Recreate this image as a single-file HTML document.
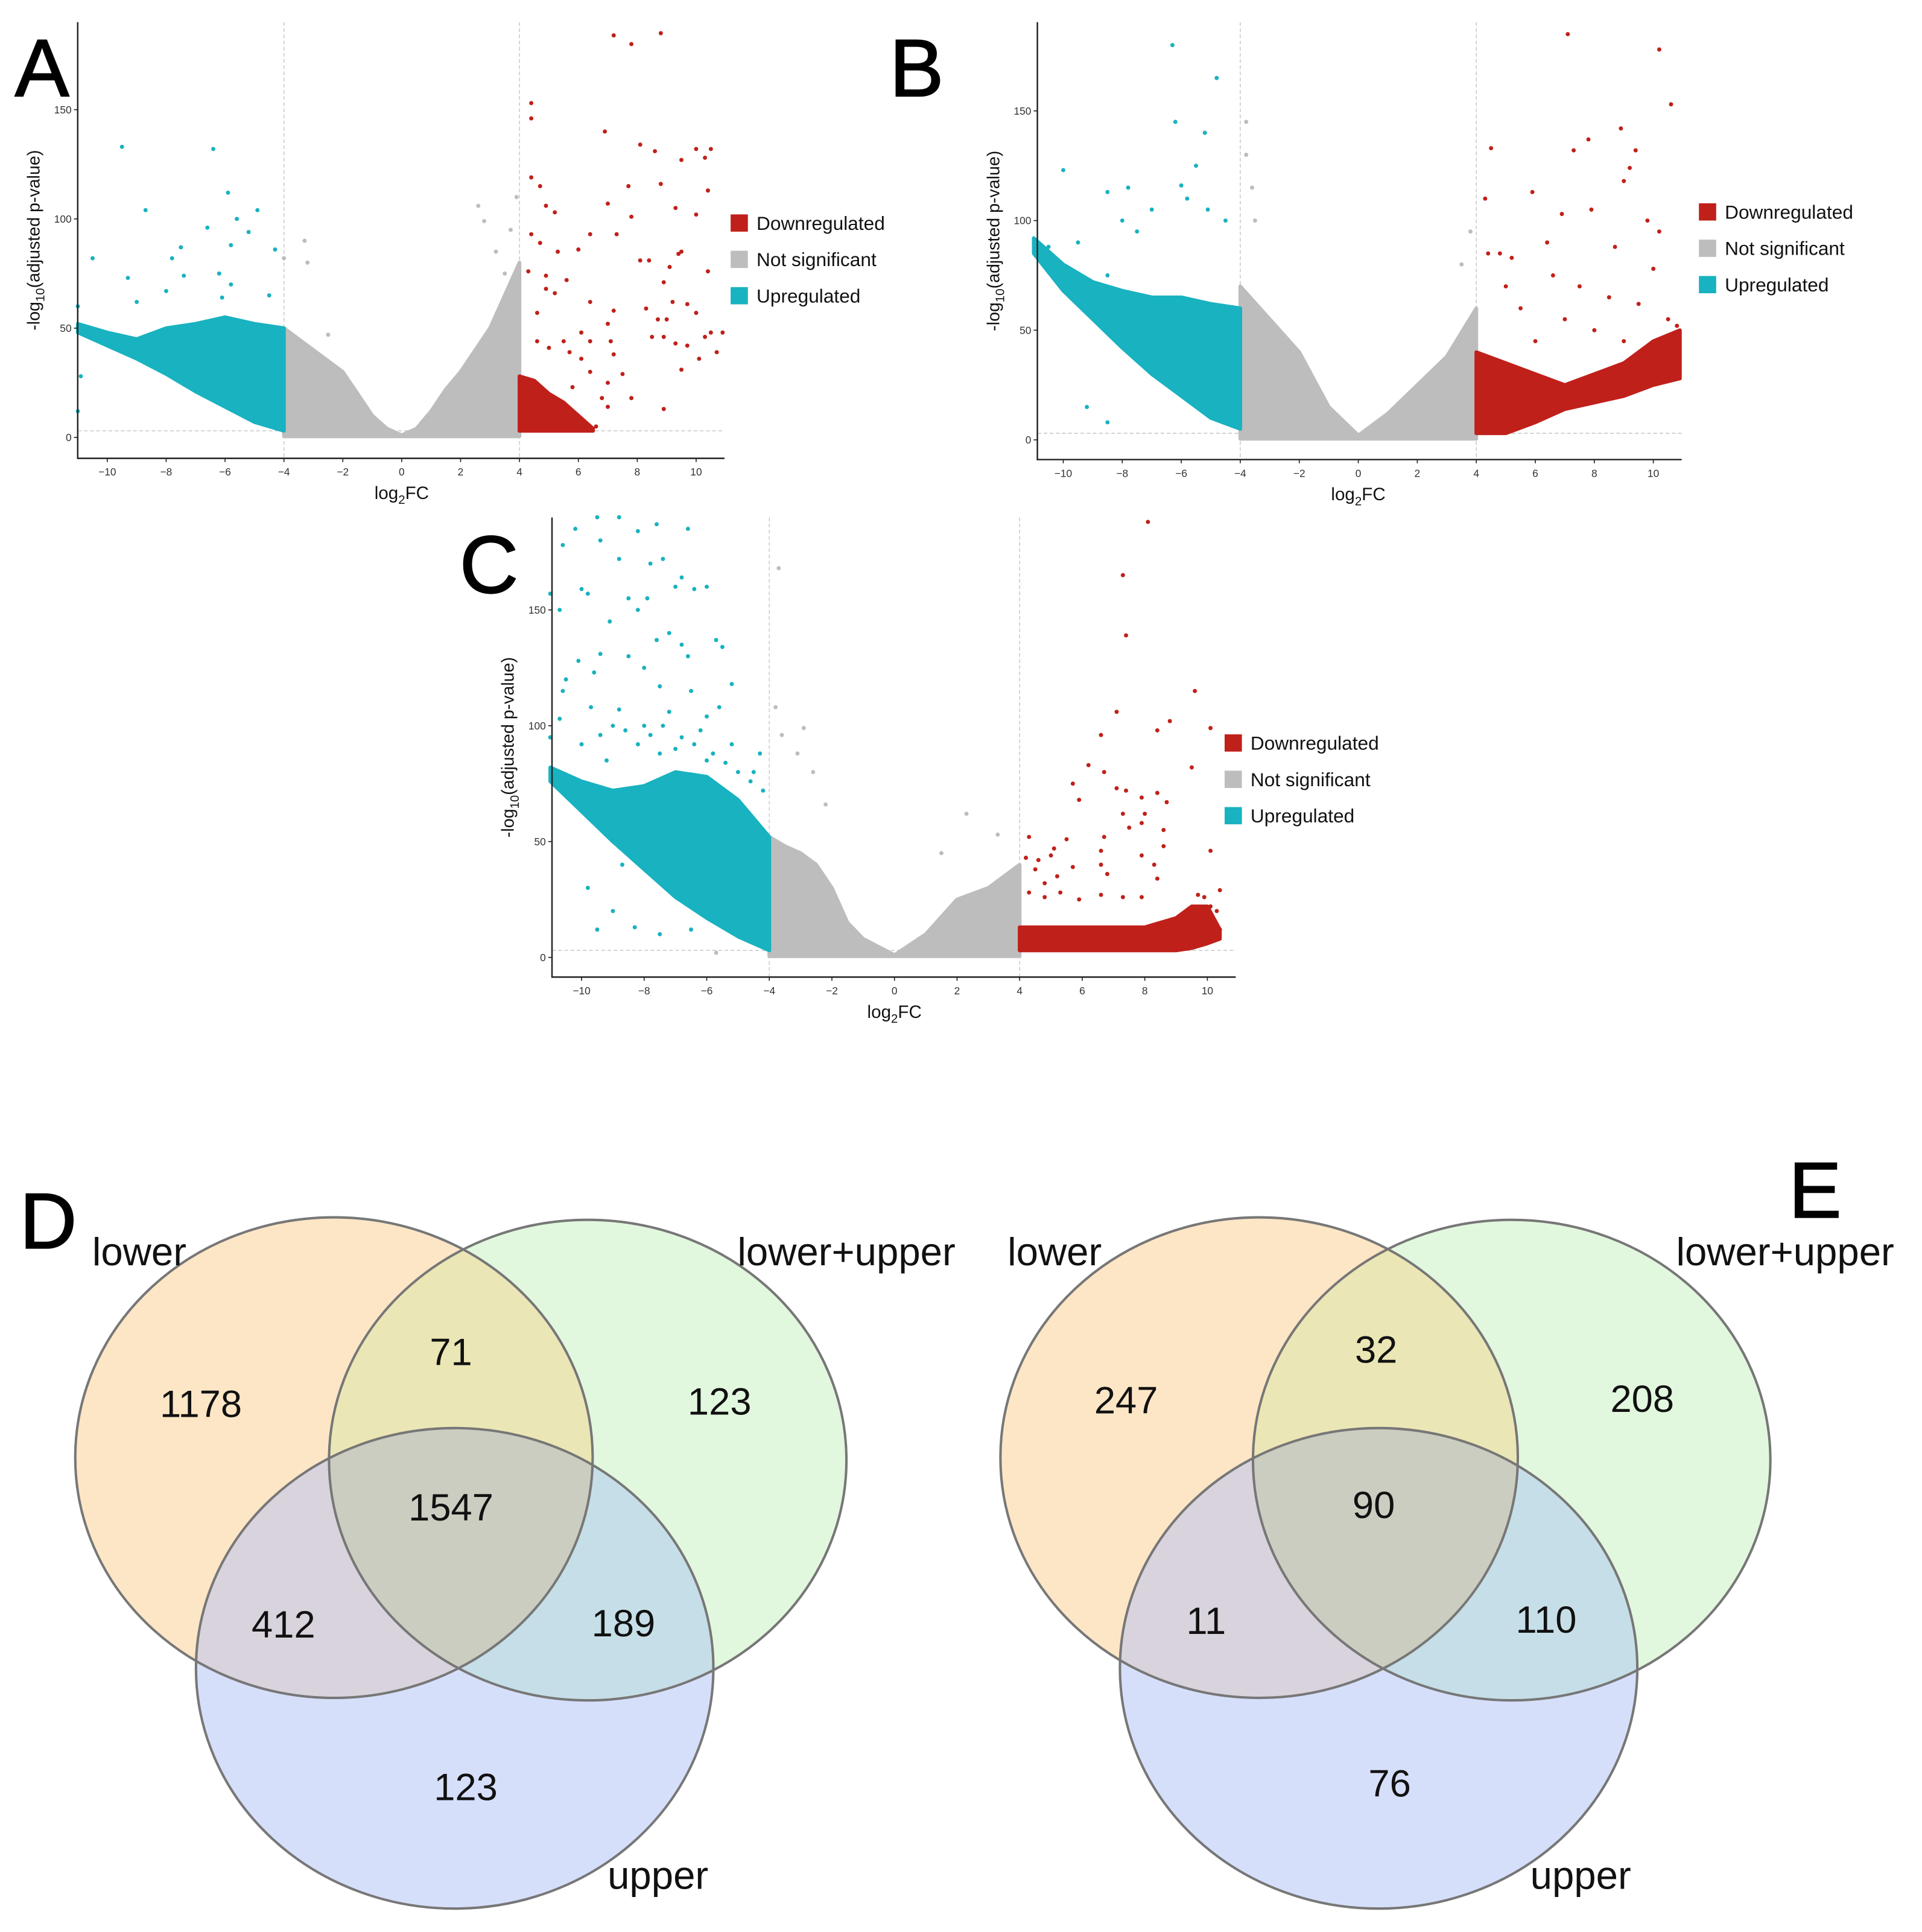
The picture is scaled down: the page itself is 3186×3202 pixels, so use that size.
<!DOCTYPE html>
<html><head><meta charset="utf-8"><style>
html,body{margin:0;padding:0;background:#fff;}
svg{display:block;font-family:"Liberation Sans",Arial,sans-serif;}
</style></head><body>
<svg id="fig" width="3186" height="3202" viewBox="0 0 1560 1568">
<rect x="0" y="0" width="1560" height="1568" fill="#fff"/>
<defs id="defs"></defs>
<g id="venn"></g>
</svg>
<script>
// ---- Volcano data ----
const xTicks = [-10,-8,-6,-4,-2,0,2,4,6,8,10];
const yTicks = [0,50,100,150];
const legendLabels = ["Downregulated","Not significant","Upregulated"];
const legendColors = ["#c0201a","#bdbdbd","#18b2c0"];

// Panel A
const aGrayX = [-4,-3.5,-3,-2.5,-2,-1.5,-1,-0.5,0,0.5,1,1.5,2,2.5,3,3.5,4];
const aGrayTop = [50,45,40,35,30,20,10,4,1,4,12,22,30,40,50,65,80];
const aCyanX = [-11,-10,-9,-8,-7,-6,-5,-4];
const aCyanLow = [48,42,36,29,21,14,7,3];
const aCyanTop = [52,48,45,50,52,55,52,50];
const aRedX = [4,4.5,5,5.5,6,6.5];
const aRedLow = [3,3,3,3,3,3];
const aRedTop = [28,26,20,16,10,4];
const aCyanPts = [[-9.5,133],[-6.4,132],[-5.9,112],[-8.7,104],[-5.6,100],[-4.9,104],[-5.2,94],[-6.6,96],[-7.5,87],[-5.8,88],[-10.5,82],[-7.8,82],[-4.3,86],[-9.3,73],[-7.4,74],[-8,67],[-6.2,75],[-9,62],[-5.8,70],[-4.5,65],[-6.1,64],[-11,60],[-11,12],[-10.9,28]];
const aGrayPts = [[2.6,106],[2.8,99],[3.9,110],[-3.3,90],[-3.2,80],[-4,82],[3.7,95],[3.5,75],[3.2,85],[-2.5,47]];
const aRedPts = [[7.2,184],[8.8,185],[7.8,180],[4.4,153],[4.4,146],[6.9,140],[8.1,134],[8.6,131],[10,132],[10.5,132],[9.5,127],[10.3,128],[4.4,119],[7.7,115],[8.8,116],[10.4,113],[4.7,115],[4.9,106],[7,107],[5.2,103],[9.3,105],[10,102],[7.8,101],[6.4,93],[7.3,93],[4.4,93],[4.7,89],[6,86],[5.3,85],[9.5,85],[8.1,81],[8.4,81],[9.4,84],[9.1,78],[4.3,76],[4.9,74],[5.6,72],[8.9,71],[10.4,76],[4.9,68],[5.2,66],[6.4,62],[8.3,59],[7.2,58],[9.2,62],[9.7,61],[4.6,57],[9,54],[10,57],[7,52],[8.7,54],[6.1,48],[10.5,48],[10.9,48],[8.5,46],[8.9,46],[7.1,44],[6.4,44],[4.6,44],[5.5,44],[9.3,43],[9.7,42],[10.3,46],[5.7,39],[6.1,36],[7.2,38],[10.7,39],[5,41],[9.5,31],[6.4,30],[7.5,29],[10.1,36],[7,25],[5.8,23],[6.8,18],[7.8,18],[7,14],[8.9,13],[6.6,5],[6.2,6]];

// Panel B
const bGrayX = [-4,-3,-2,-1,0,1,2,3,4];
const bGrayTop = [70,55,40,15,2,12,25,38,60];
const bCyanX = [-11,-10,-9,-8,-7,-6,-5,-4];
const bCyanLow = [85,68,55,42,30,20,10,5];
const bCyanTop = [92,80,72,68,65,65,62,60];
const bRedX = [4,5,6,7,8,9,10,10.9];
const bRedLow = [3,3,8,14,17,20,25,28];
const bRedTop = [40,35,30,25,30,35,45,50];
const bCyanPts = [[-6.3,180],[-4.8,165],[-5.2,140],[-6.2,145],[-5.5,125],[-10,123],[-7.8,115],[-8.5,113],[-6,116],[-5.8,110],[-7,105],[-8,100],[-9.5,90],[-7.5,95],[-5.1,105],[-4.5,100],[-10.5,88],[-9.8,78],[-8.5,75],[-9.2,15],[-8.5,8]];
const bGrayPts = [[-3.8,145],[-3.8,130],[-3.6,115],[-3.5,100],[3.8,95],[3.5,80]];
const bRedPts = [[7.1,185],[10.2,178],[10.6,153],[7.8,137],[8.9,142],[7.3,132],[4.5,133],[9.4,132],[9.2,124],[5.9,113],[4.3,110],[9,118],[7.9,105],[6.9,103],[10.2,95],[6.4,90],[4.8,85],[4.4,85],[5.2,83],[8.7,88],[9.8,100],[10,78],[6.6,75],[7.5,70],[8.5,65],[9.5,62],[10.5,55],[5,70],[5.5,60],[7,55],[8,50],[9,45],[10.8,52],[6,45]];

// Panel C
const cGrayX = [-4,-3.5,-3,-2.5,-2,-1.5,-1,0,1,2,3,3.5,4];
const cGrayTop = [52,48,45,40,30,15,8,1,10,25,30,35,40];
const cCyanX = [-11,-10,-9,-8,-7,-6,-5,-4];
const cCyanLow = [76,63,50,38,26,17,9,3];
const cCyanTop = [82,76,72,74,80,78,68,52];
const cRedX = [4,6,8,9,9.5,10,10.4];
const cRedLow = [3,3,3,3,4,6,8];
const cRedTop = [13,13,13,17,22,22,12];
const cCyanPts = [[-10.2,185],[-9.5,190],[-8.8,190],[-7.6,187],[-6.6,185],[-8.2,184],[-9.4,180],[-10.6,178],[-7.4,172],[-8.8,172],[-7.8,170],[-6.8,164],[-6.4,159],[-6,160],[-10,159],[-11,157],[-9.8,157],[-8.5,155],[-7.9,155],[-8.2,150],[-10.7,150],[-9.1,145],[-7,160],[-7.2,140],[-6.8,135],[-5.7,137],[-5.5,134],[-7.6,137],[-8.5,130],[-9.4,131],[-10.1,128],[-5.2,118],[-6.6,130],[-8,125],[-9.6,123],[-10.5,120],[-10.6,115],[-7.5,117],[-6.5,115],[-5.6,108],[-9.7,108],[-8.8,107],[-7.2,106],[-6,104],[-10.7,103],[-11,95],[-9,100],[-8,100],[-6.8,95],[-5.2,92],[-4.3,88],[-10,92],[-7.5,88],[-6,85],[-9.2,85],[-4.5,80],[-9,20],[-9.5,12],[-8.3,13],[-7.5,10],[-6.5,12],[-9.8,30],[-8.7,40],[-8.2,92],[-7.8,96],[-7,90],[-6.4,92],[-5.8,88],[-5.4,84],[-5,80],[-4.6,76],[-4.2,72],[-9.4,96],[-8.6,98],[-6.2,98],[-7.4,100]];
const cGrayPts = [[-3.7,168],[-3.8,108],[-3.6,96],[-2.9,99],[-3.1,88],[-2.6,80],[2.3,62],[1.5,45],[3.3,53],[-2.2,66],[-5.7,2]];
const cRedPts = [[8.1,188],[7.3,165],[7.4,139],[9.6,115],[7.1,106],[8.8,102],[10.1,99],[8.4,98],[6.6,96],[9.5,82],[6.2,83],[6.7,80],[5.7,75],[7.1,73],[7.4,72],[7.9,69],[8.4,71],[5.9,68],[8.7,67],[8,62],[7.3,62],[7.9,58],[7.5,56],[8.6,55],[5.5,51],[6.7,52],[4.3,52],[8.6,48],[5.1,47],[6.6,46],[10.1,46],[4.2,43],[4.6,42],[5,44],[7.9,44],[5.7,39],[6.6,40],[8.3,40],[4.5,38],[5.2,35],[4.8,32],[6.8,36],[8.4,34],[4.3,28],[5.3,28],[5.9,25],[6.6,27],[7.3,26],[7.9,26],[4.8,26],[10.4,29],[10.1,22],[10.3,20],[10.4,12],[9.7,27],[9.9,26]];

// ---- Venn data ----
const vennDLabels = ["1178","71","123","1547","412","189","123"];
const vennELabels = ["247","32","208","90","11","110","76"];

const NS="http://www.w3.org/2000/svg";
const svg=document.getElementById('fig');
const defs=document.getElementById('defs');
function el(tag,attrs,parent,text){const e=document.createElementNS(NS,tag);for(const k in attrs)e.setAttribute(k,attrs[k]);if(text!==undefined)e.textContent=text;(parent||svg).appendChild(e);return e;}

function volcano(cfg){
  const g=el('g',{});
  
  
  const sx=v=>cfg.x0px+(v-cfg.x0v)*(cfg.x1px-cfg.x0px)/(cfg.x1v-cfg.x0v);
  const sy=v=>cfg.y0px-(v)*(cfg.y0px-cfg.y150px)/150;
  [-4,4].forEach(v=>{const l=el('line',{x1:sx(v),x2:sx(v),y1:cfg.top,y2:cfg.bottom,stroke:'#ccc','stroke-width':0.8,'stroke-dasharray':'3,2'},g);
    });
  const hl=el('line',{x1:cfg.left,x2:cfg.right,y1:sy(3),y2:sy(3),stroke:'#ccc','stroke-width':0.8,'stroke-dasharray':'3,2'},g);
  
  function band(xs,lo,hi,color,name){
    let d='M'+xs.map((x,i)=>sx(x)+','+sy(hi[i])).join(' L')+' L'+xs.slice().reverse().map((x,i)=>sx(x)+','+sy(lo[xs.length-1-i])).join(' L')+'Z';
    const p=el('path',{d:d,fill:color,stroke:color,'stroke-width':3,'stroke-linejoin':'round'},g);
    
  }
  band(cfg.grayX,cfg.grayX.map(()=>0.5),cfg.grayTop,'#bdbdbd','not-significant-cloud');
  band(cfg.cyanX,cfg.cyanLow,cfg.cyanTop,'#18b2c0','upregulated-cloud');
  band(cfg.redX,cfg.redLow,cfg.redTop,'#c0201a','downregulated-cloud');
  function pts(arr,color,name){arr.forEach(p=>{const c=el('circle',{cx:sx(p[0]),cy:sy(p[1]),r:1.7,fill:color},g);
    });}
  pts(cfg.grayPts,'#bdbdbd','not-significant-point');
  pts(cfg.cyanPts,'#18b2c0','upregulated-point');
  pts(cfg.redPts,'#c0201a','downregulated-point');
  const ax=el('path',{d:`M${cfg.left},${cfg.top} V${cfg.bottom} H${cfg.right}`,fill:'none',stroke:'#222','stroke-width':1.2},g);
  
  xTicks.forEach(t=>{el('line',{x1:sx(t),x2:sx(t),y1:cfg.bottom,y2:cfg.bottom+3,stroke:'#222','stroke-width':0.8},g);
    const tx=el('text',{x:sx(t),y:cfg.bottom+14,'font-size':8.5,'text-anchor':'middle',fill:'#333'},g,t<0?'\u2212'+(-t):String(t));
    });
  yTicks.forEach(t=>{el('line',{x1:cfg.left-3,x2:cfg.left,y1:sy(t),y2:sy(t),stroke:'#222','stroke-width':0.8},g);
    const tx=el('text',{x:cfg.left-5,y:sy(t)+3,'font-size':8.5,'text-anchor':'end',fill:'#333'},g,String(t));
    });
  const xt=el('text',{x:sx(0),y:cfg.bottom+33,'font-size':14.5,'text-anchor':'middle',fill:'#111'},g);
  
  xt.innerHTML='log<tspan font-size="10" dy="4">2</tspan><tspan dy="-4">FC</tspan>';
  const ymid=(cfg.top+cfg.bottom)/2;
  const yt=el('text',{x:0,y:0,'font-size':14,'text-anchor':'middle',fill:'#111',transform:`translate(${cfg.left-31},${ymid}) rotate(-90)`},g);
  
  yt.innerHTML='-log<tspan font-size="10" dy="4">10</tspan><tspan dy="-4">(adjusted p-value)</tspan>';
  legendLabels.forEach((lab,i)=>{
    const r=el('rect',{x:cfg.legX,y:cfg.legY+i*29.5-7,width:14,height:14,fill:legendColors[i]},g);
    
    const t=el('text',{x:cfg.legX+21,y:cfg.legY+i*29.5+5.5,'font-size':15.5,fill:'#111'},g,lab);
    });
  const L=el('text',{x:cfg.labX,y:cfg.labY,'font-size':66,fill:'#000',stroke:'#000','stroke-width':1},g,cfg.id);
  
}

volcano({id:'A',x0v:-10,x1v:10,x0px:87,x1px:565,y0px:355,y150px:89,left:63,right:588,top:18,bottom:372,
  grayX:aGrayX,grayTop:aGrayTop,cyanX:aCyanX,cyanLow:aCyanLow,cyanTop:aCyanTop,redX:aRedX,redLow:aRedLow,redTop:aRedTop,
  cyanPts:aCyanPts,grayPts:aGrayPts,redPts:aRedPts,legX:593,legY:181,labX:12,labY:78});
volcano({id:'B',x0v:-10,x1v:10,x0px:863,x1px:1342,y0px:357,y150px:90,left:842,right:1365,top:18,bottom:373,
  grayX:bGrayX,grayTop:bGrayTop,cyanX:bCyanX,cyanLow:bCyanLow,cyanTop:bCyanTop,redX:bRedX,redLow:bRedLow,redTop:bRedTop,
  cyanPts:bCyanPts,grayPts:bGrayPts,redPts:bRedPts,legX:1379,legY:172,labX:722,labY:78});
volcano({id:'C',x0v:-10,x1v:10,x0px:472,x1px:980,y0px:777,y150px:495,left:448,right:1003,top:420,bottom:793,
  grayX:cGrayX,grayTop:cGrayTop,cyanX:cCyanX,cyanLow:cCyanLow,cyanTop:cCyanTop,redX:cRedX,redLow:cRedLow,redTop:cRedTop,
  cyanPts:cCyanPts,grayPts:cGrayPts,redPts:cRedPts,legX:994,legY:603,labX:373,labY:481});

// ---- Venn ----
const venn=document.getElementById('venn');
function vennDiagram(id,cx,labels,labelX){
  const g=el('g',{},venn);
  
  const cy=[1183,1185,1354];
  const ell=i=>({cx:cx[i],cy:cy[i],rx:210,ry:195});
  ['L','G','U'].forEach((k,i)=>{const cp=el('clipPath',{id:'clip'+id+k},defs);el('ellipse',ell(i),cp);});
  const cols=['#fde6c6','#e2f8de','#d6dffa'];
  const names=['lower-set','lower-upper-set','upper-set'];
  [0,1,2].forEach(i=>{const e=el('ellipse',Object.assign({fill:cols[i]},ell(i)),g);
    });
  // pairwise overlaps
  const gLG=el('g',{'clip-path':`url(#clip${id}L)`},g); el('ellipse',Object.assign({fill:'#ebe6b5'},ell(1)),gLG);
  const gLU=el('g',{'clip-path':`url(#clip${id}L)`},g); el('ellipse',Object.assign({fill:'#d9d3dd'},ell(2)),gLU);
  const gGU=el('g',{'clip-path':`url(#clip${id}G)`},g); el('ellipse',Object.assign({fill:'#c6dee7'},ell(2)),gGU);
  const gT1=el('g',{'clip-path':`url(#clip${id}L)`},g); const gT2=el('g',{'clip-path':`url(#clip${id}G)`},gT1);
  el('ellipse',Object.assign({fill:'#cacdc0'},ell(2)),gT2);
  [0,1,2].forEach(i=>{el('ellipse',Object.assign({fill:'none',stroke:'#777','stroke-width':2},ell(i)),g);});
  labels.pos.forEach((p,i)=>{const t=el('text',{x:p[0],y:p[1]+11,'font-size':31,'text-anchor':'middle',fill:'#111'},g,labels.vals[i]);
    });
  labelX.forEach(l=>{const t=el('text',{x:l[0],y:l[1]+11,'font-size':32,'text-anchor':'middle',fill:'#111'},g,l[2]);
    });
}
vennDiagram('D',[271,477,369],{vals:vennDLabels,pos:[[163,1139],[366,1097],[584,1137],[366,1223],[230,1318],[506,1317],[378,1450]]},
  [[113,1016,'lower'],[687,1016,'lower+upper'],[534,1522,'upper']]);
vennDiagram('E',[1022,1227,1119],{vals:vennELabels,pos:[[914,1136],[1117,1095],[1333,1135],[1115,1221],[979,1315],[1255,1314],[1128,1447]]},
  [[856,1016,'lower'],[1449,1016,'lower+upper'],[1283,1522,'upper']]);
const D=el('text',{x:16,y:1013,'font-size':64,fill:'#000',stroke:'#000','stroke-width':1},venn,'D');

const E=el('text',{x:1452,y:988,'font-size':64,fill:'#000',stroke:'#000','stroke-width':1},venn,'E');

</script>
</body></html>
